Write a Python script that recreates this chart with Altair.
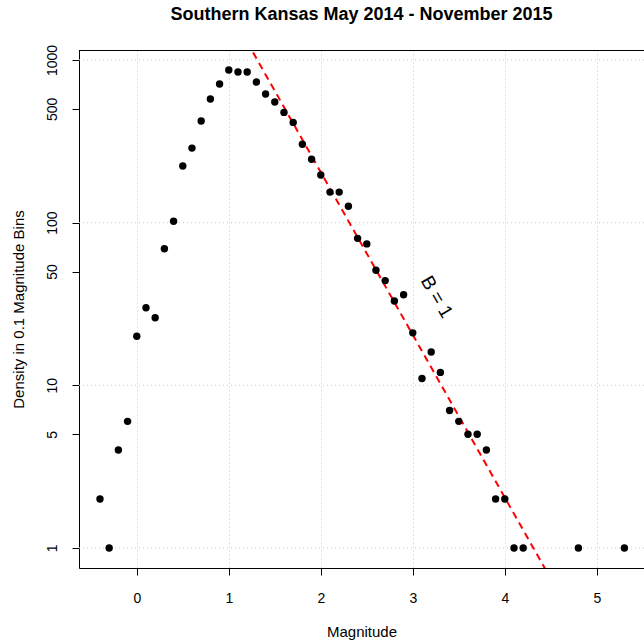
import altair as alt
import pandas as pd

magnitude = [-0.4, -0.3, -0.2, -0.1, 0.0, 0.1, 0.2, 0.3, 0.4, 0.5, 0.6, 0.7, 0.8, 0.9,
             1.0, 1.1, 1.2, 1.3, 1.4, 1.5, 1.6, 1.7, 1.8, 1.9, 2.0, 2.1, 2.2, 2.3, 2.4,
             2.5, 2.6, 2.7, 2.8, 2.9, 3.0, 3.1, 3.2, 3.3, 3.4, 3.5, 3.6, 3.7, 3.8, 3.9,
             4.0, 4.1, 4.2, 4.8, 5.3]
density = [2, 1, 4, 6, 20, 30, 26, 69, 102, 223, 287, 421, 575, 711,
           867, 843, 843, 731, 617, 551, 476, 413, 303, 245, 196, 154, 154, 126, 80,
           74, 51, 44, 33, 36, 21, 11, 16, 12, 7, 6, 5, 5, 4, 2,
           2, 1, 1, 1, 1]

fit_magnitude = [1.2, 4.5]
fit_density = [1288, 0.646]

label_magnitude = [3.26]
label_density = [34.9]
label_text = ["B = 1"]

y_ticks = [1, 5, 10, 50, 100, 500, 1000]
y_grid = [1, 10, 100, 1000]
x_ticks = [0, 1, 2, 3, 4, 5]

FONT = "Liberation Sans"
X_DOMAIN = [-0.628, 5.513]
Y_DOMAIN = [0.753, 1151]

pts = pd.DataFrame({"Magnitude": magnitude, "Density": density})
fit = pd.DataFrame({"Magnitude": fit_magnitude, "Density": fit_density})
lab = pd.DataFrame({"Magnitude": label_magnitude, "Density": label_density, "t": label_text})
ygrid = pd.DataFrame({"Density": y_grid})

xscale = alt.Scale(domain=X_DOMAIN, nice=False, zero=False)
yscale = alt.Scale(type="log", domain=Y_DOMAIN, nice=False)

xaxis = alt.Axis(values=x_ticks, format="d", title="Magnitude", grid=True,
                 gridColor="#C8C8C8", gridDash=[1, 3], gridWidth=1,
                 domainColor="black", tickColor="black", tickSize=7,
                 labelFont=FONT, labelFontSize=14, labelColor="black",
                 labelBaseline="alphabetic", labelPadding=27,
                 titleFont=FONT, titleFontSize=15, titleFontWeight="normal",
                 titleColor="black", titleBaseline="alphabetic", titleY=68)

yaxis = alt.Axis(values=y_ticks, format="d", title="Density in 0.1 Magnitude Bins",
                 grid=False, domainColor="black", tickColor="black", tickSize=7,
                 labelFont=FONT, labelFontSize=14, labelColor="black",
                 labelAngle=-90, labelAlign="center", labelBaseline="alphabetic",
                 labelPadding=16,
                 titleFont=FONT, titleFontSize=15, titleFontWeight="normal",
                 titleColor="black", titleBaseline="alphabetic", titleAngle=-90,
                 titleX=-56, titleY=259, titleAlign="center")

grid_layer = alt.Chart(ygrid).mark_rule(color="#C8C8C8", strokeDash=[1, 3], strokeWidth=1).encode(
    y=alt.Y("Density:Q", scale=yscale, axis=yaxis)
)

line = alt.Chart(fit).mark_line(color="#FF0000", strokeWidth=2, strokeDash=[7, 5], clip=True).encode(
    x=alt.X("Magnitude:Q", scale=xscale, axis=xaxis),
    y=alt.Y("Density:Q", scale=yscale, axis=yaxis),
)

points = alt.Chart(pts).mark_circle(color="black", opacity=1, size=55).encode(
    x=alt.X("Magnitude:Q", scale=xscale, axis=xaxis),
    y=alt.Y("Density:Q", scale=yscale, axis=yaxis),
)

text = alt.Chart(lab).mark_text(font=FONT, fontSize=19, angle=60, align="center",
                                baseline="middle", color="black").encode(
    x=alt.X("Magnitude:Q", scale=xscale, axis=xaxis),
    y=alt.Y("Density:Q", scale=yscale, axis=yaxis),
    text="t:N",
)

top_line = alt.Chart(ygrid).mark_rule(color="black", strokeWidth=1).encode(
    y=alt.value(0.5), x=alt.value(0), x2=alt.value(570)
)

chart = alt.layer(grid_layer, line, points, text, top_line).properties(
    width=565, height=518,
    title=alt.TitleParams("Southern Kansas May 2014 - November 2015", font=FONT,
                          fontSize=18, fontWeight="bold", color="black",
                          anchor="middle", baseline="alphabetic", offset=6),
    autosize=alt.AutoSizeParams(type="none"),
    padding={"left": 79, "top": 50, "right": 0, "bottom": 73},
).configure_view(stroke=None).configure(background="white")

chart.save("out.html", embed_options={"renderer": "svg", "actions": False})
